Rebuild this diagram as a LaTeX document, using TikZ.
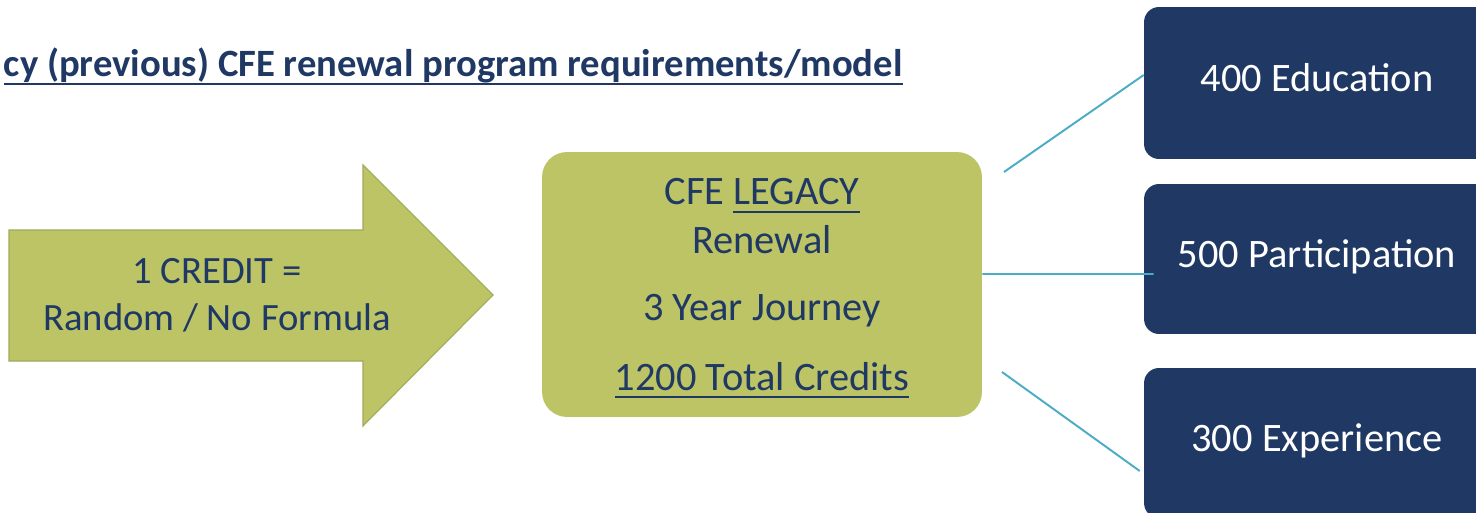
\documentclass[tikz,border=0pt]{standalone}
\usepackage{fontspec}
\setmainfont{Carlito}
\usepackage{xcolor}
\usepackage{tikz}

\definecolor{navy}{HTML}{203864}
\definecolor{olive}{HTML}{BCC466}
\definecolor{olivedark}{HTML}{A0AA58}
\definecolor{linkblue}{HTML}{4BACC6}
\newcommand{\undl}[1]{\sbox0{#1}\rlap{\rule[-4.6pt]{\wd0}{1.4pt}}\usebox0}

\begin{document}
\begin{tikzpicture}[x=0.02cm, y=-0.02cm,
		greenbox/.style={fill=olive, rounded corners=0.5cm},
		bluebox/.style={fill=navy, rounded corners=0.3cm, minimum width=6.92cm, text=white,
			font=\fontsize{23}{27}\selectfont, text height=15pt, text depth=4.8pt},
		legtext/.style={text=navy, font=\fontsize{23}{27}\selectfont, anchor=base},
		link/.style={draw=linkblue, line width=1.1pt}]
	\clip (0,0) rectangle (1476,513);
	\fill[white] (0,0) rectangle (1476,513);
	
	\node[text=navy, anchor=base east, inner xsep=0pt, font=\fontsize{22}{26}\bfseries] (title) at (903,77) {\undl{cy (previous) CFE renewal program requirements/model}};
	
	% big arrow on the left
	\draw[fill=olive, draw=olivedark, line width=0.6pt] (9,230) -- (363,230) -- (363,165) -- (493,295) -- (363,426) -- (363,361) -- (9,361) -- cycle;
	\node[legtext, font=\fontsize{22}{26}\selectfont] (credit) at (217,283) {1 CREDIT =};
	\node[legtext, font=\fontsize{22}{26}\selectfont] (formula) at (217,330) {Random / No Formula};
	
	% legacy box
	\node[greenbox, minimum width=8.8cm, minimum height=5.3cm] (legacy) at (762,284.5) {};
	\node[legtext] (cfe) at (762,205) {CFE \undl{LEGACY}};
	\node[legtext] (renewal) at (762,253) {Renewal};
	\node[legtext] (journey) at (762,320) {3 Year Journey};
	\node[legtext] (total) at (762,390) {\undl{1200 Total Credits}};
	
	% credit split
	\node[bluebox, minimum height=3.04cm] (edu) at (1317,83) {400 Education};
	\node[bluebox, minimum height=3cm] (part) at (1317,259) {500 Participation};
	\node[bluebox, minimum height=3cm] (exp) at (1317,443) {300 Experience};
	
	\coordinate (upstart) at (1004,172);
	\coordinate (downstart) at (1002,372);
	\draw[link] (upstart) -- ([yshift=0.16cm]edu.west);
	\draw[link] ([yshift=0.21cm]legacy.east) -- ([xshift=0.2cm, yshift=-0.3cm]part.west);
	\draw[link] (downstart) -- ([xshift=-0.08cm, yshift=-0.56cm]exp.west);
\end{tikzpicture}
\end{document}
